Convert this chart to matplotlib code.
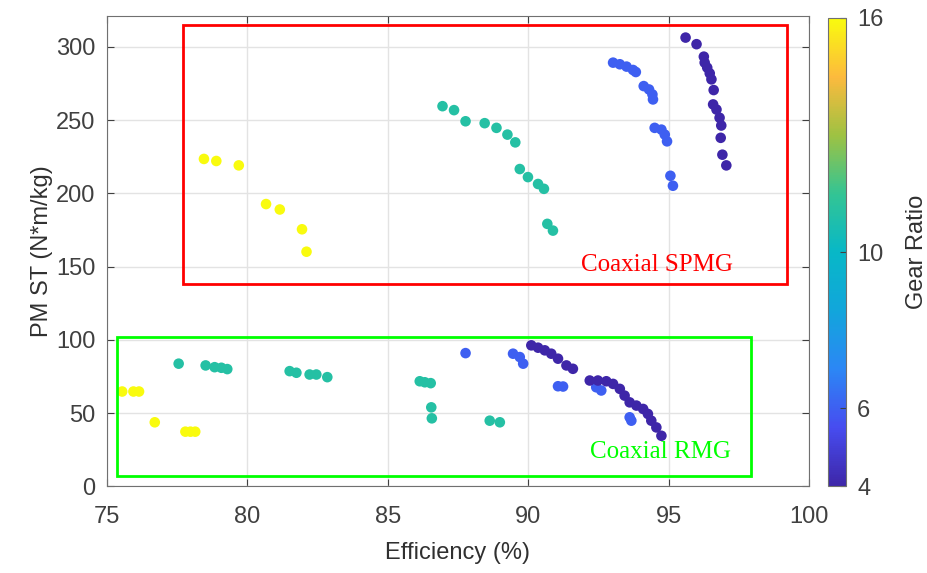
import matplotlib
matplotlib.use('Agg')
import matplotlib.pyplot as plt
from matplotlib.colors import LinearSegmentedColormap
from matplotlib.patches import Rectangle
import numpy as np

plt.rcParams['font.family'] = ['Liberation Sans', 'DejaVu Sans']

# Coaxial SPMG (upper group)
spmg_g16_eff = [78.46, 78.90, 79.70, 80.67, 81.16, 81.95, 82.11]
spmg_g16_st = [223.5, 222.1, 219.1, 192.7, 189.0, 175.5, 160.2]

spmg_g11_eff = [86.95, 87.36, 87.77, 88.45, 88.87, 89.26, 89.54, 89.70, 89.99,
                90.35, 90.56, 90.68, 90.88]
spmg_g11_st = [259.5, 256.8, 249.2, 247.9, 244.7, 240.1, 234.8, 216.6, 211.1,
               206.4, 203.1, 179.2, 174.6]

spmg_g6_eff = [93.02, 93.26, 93.50, 93.73, 93.83, 94.11, 94.30, 94.42, 94.44,
               94.50, 94.74, 94.86, 94.94, 95.06, 95.15]
spmg_g6_st = [289.2, 288.1, 286.5, 284.2, 282.8, 273.2, 270.9, 267.5, 264.1,
              244.7, 243.5, 240.1, 235.5, 212.0, 205.2]

spmg_g4_eff = [95.60, 95.99, 96.25, 96.28, 96.37, 96.46, 96.52, 96.60, 96.58,
               96.70, 96.81, 96.87, 96.85, 96.91, 97.05]
spmg_g4_st = [306.3, 301.8, 293.3, 289.2, 285.8, 281.9, 277.8, 270.5, 260.7,
              257.2, 251.6, 246.3, 237.9, 226.4, 219.1]

# Coaxial RMG (lower group)
rmg_g16_eff = [75.55, 75.95, 76.15, 76.71, 77.80, 77.98, 78.15]
rmg_g16_st = [64.8, 64.8, 64.8, 43.8, 37.4, 37.4, 37.4]

rmg_g11_eff = [77.56, 78.52, 78.84, 79.08, 79.29, 81.51, 81.75, 82.22, 82.46,
               82.85, 86.14, 86.32, 86.53, 86.55, 86.57, 88.63, 88.99]
rmg_g11_st = [83.8, 82.6, 81.4, 81.0, 80.1, 78.7, 77.6, 76.4, 76.4, 74.6, 71.8,
              71.1, 70.5, 54.0, 46.5, 44.9, 43.8]

rmg_g6_eff = [87.77, 89.46, 89.70, 89.82, 91.06, 91.24, 92.42, 92.60, 93.61,
              93.67]
rmg_g6_st = [91.0, 90.6, 88.3, 83.8, 68.4, 68.2, 67.7, 65.5, 47.2, 44.9]

rmg_g4_eff = [90.11, 90.35, 90.59, 90.82, 91.06, 91.36, 91.59, 92.19, 92.48,
              92.78, 93.02, 93.26, 93.43, 93.61, 93.85, 94.09, 94.26, 94.38,
              94.56, 94.74]
rmg_g4_st = [96.3, 94.7, 92.9, 90.6, 87.2, 82.6, 80.3, 72.3, 72.3, 71.8, 70.0,
             66.6, 62.0, 57.4, 55.2, 52.9, 49.5, 44.9, 40.3, 34.6]

groups = [
    (spmg_g16_eff, spmg_g16_st, 16), (spmg_g11_eff, spmg_g11_st, 11),
    (spmg_g6_eff, spmg_g6_st, 6), (spmg_g4_eff, spmg_g4_st, 4),
    (rmg_g16_eff, rmg_g16_st, 16), (rmg_g11_eff, rmg_g11_st, 11),
    (rmg_g6_eff, rmg_g6_st, 6), (rmg_g4_eff, rmg_g4_st, 4),
]

# parula-like colormap
parula = LinearSegmentedColormap.from_list('parula', [
    (0.000, (0.2422, 0.1504, 0.6603)),
    (0.125, (0.2780, 0.3000, 0.9400)),
    (0.250, (0.1700, 0.5300, 0.9600)),
    (0.375, (0.0700, 0.6500, 0.8600)),
    (0.500, (0.0300, 0.7200, 0.7800)),
    (0.625, (0.2000, 0.7700, 0.5800)),
    (0.750, (0.6200, 0.7600, 0.2600)),
    (0.875, (0.9900, 0.7300, 0.2400)),
    (1.000, (0.9763, 0.9831, 0.0538)),
])

fig = plt.figure(figsize=(9.28, 5.73), dpi=100)
ax = fig.add_axes([0.115, 0.151, 0.757, 0.821])
cax = fig.add_axes([0.8926, 0.151, 0.019, 0.818])

sc = None
for eff, st, g in groups:
    sc = ax.scatter(eff, st, c=[g] * len(eff), cmap=parula, vmin=4, vmax=16,
                    s=58, linewidths=0, zorder=3)

# boxes around the two families
ax.add_patch(Rectangle((77.71, 138.5), 99.22 - 77.71, 314.6 - 138.5,
                       fill=False, edgecolor='#ff0000', linewidth=2, zorder=4))
ax.add_patch(Rectangle((75.35, 7.3), 97.94 - 75.35, 102.3 - 7.3,
                       fill=False, edgecolor='#00ff00', linewidth=2, zorder=4))
ax.text(94.6, 151, 'Coaxial SPMG', color='#ff0000', fontsize=18,
        family='Liberation Serif', ha='center', va='center')
ax.text(94.7, 23.5, 'Coaxial RMG', color='#00ff00', fontsize=18,
        family='Liberation Serif', ha='center', va='center')

ax.set_xlim(75, 100)
ax.set_ylim(0, 321)
ax.set_xticks([75, 80, 85, 90, 95, 100])
ax.set_yticks([0, 50, 100, 150, 200, 250, 300])
ax.grid(True, color='#e3e3e3', linewidth=1, zorder=0)
ax.set_axisbelow(True)
ax.tick_params(direction='in', top=True, right=True, labelsize=17,
               colors='#404040', length=5)
ax.tick_params(axis='x', pad=14)
ax.tick_params(axis='y', pad=8)
for sp in ax.spines.values():
    sp.set_color('#707070')
ax.set_xlabel('Efficiency (%)', fontsize=17, color='#303030', labelpad=10)
ax.set_ylabel('PM ST (N*m/kg)', fontsize=17, color='#303030', labelpad=2)

cb = fig.colorbar(sc, cax=cax, ticks=[4, 6, 10, 16])
cb.ax.tick_params(direction='in', labelsize=17, colors='#404040', length=4,
                  pad=8)
cb.outline.set_edgecolor('#707070')
cb.set_label('Gear Ratio', fontsize=17, color='#303030', labelpad=16)

fig.savefig('out.png', dpi=100)
